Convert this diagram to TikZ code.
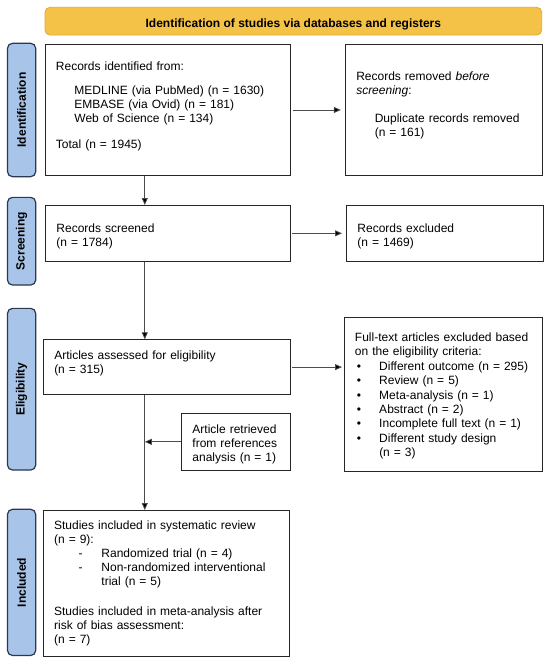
\documentclass[tikz,border=0pt]{standalone}
\usepackage{fontspec}
\setmainfont{Liberation Sans}
\usetikzlibrary{arrows.meta}
\definecolor{banfill}{HTML}{F3C247}
\definecolor{banedge}{HTML}{E2A92E}
\definecolor{sidefill}{HTML}{A8C4E8}
\definecolor{sideedge}{HTML}{2A3850}
\newcommand\TopPad[1]{\rule{0pt}{#1pt}}
\newcommand\BotPad[1]{\rule[-#1pt]{0pt}{#1pt}}
\newcommand\Ind{\hspace*{18.5pt}}
\newcommand\Bul{\makebox[24.3pt][l]{\hspace*{2pt}•}}
\newcommand\Dsh{\hspace*{24.5pt}\makebox[22.8pt][l]{-}}
\begin{document}
\begin{tikzpicture}[x=1pt,y=-1pt,
  box/.style={draw=black!85, line width=0.9pt, anchor=north west, inner xsep=11pt, inner ysep=0pt, align=left, font=\fontsize{12}{14}\selectfont},
  side/.style={draw=sideedge, fill=sidefill, line width=1.2pt, rounded corners=5pt, rotate=90, inner sep=0pt, minimum height=28.2pt, font=\fontsize{12}{14}\selectfont\bfseries},
  banner/.style={draw=banedge, fill=banfill, line width=0.8pt, rounded corners=5pt, inner sep=0pt, text height=12pt, text depth=0pt, font=\fontsize{12}{14}\selectfont\bfseries},
  arr/.style={draw=black!70, line width=0.8pt, -{Triangle[length=7pt,width=6pt,fill=black]}}]
\useasboundingbox (0,0) rectangle (550,667);

\node[banner, minimum width=496.7pt, minimum height=27.7pt] (ban) at (293.35,21.15) {Identification of studies via databases and registers};

\node[side, minimum width=133.4pt] (sIdent) at (21.6,110) {Identification};
\node[side, minimum width=87.7pt] (sScreen) at (21.6,241.2) {Screening};
\node[side, minimum width=161.7pt] (sElig) at (21.6,389.2) {Eligibility};
\node[side, minimum width=146.2pt] (sIncl) at (21.6,582.4) {Included};

\node[box, text width=223.5pt, minimum height=130.4pt] (b1) at (44.5,44.3) {Records identified from:\\[9.5pt]
\Ind MEDLINE (via PubMed) (n = 1630)\\
\Ind EMBASE (via Ovid) (n = 181)\\
\Ind Web of Science (n = 134)\\[12.5pt]
Total (n = 1945)\BotPad{9.5}};

\node[box, text width=174.9pt, minimum height=130.4pt] (b2) at (344.8,44.3) {Records removed \textit{before}\\
\textit{screening}:\\[14pt]
\Ind Duplicate records removed\\
\Ind (n = 161)\BotPad{12.2}};

\node[box, text width=223pt, minimum height=55.7pt] (b3) at (45,205) {\TopPad{14.7}Records screened\\(n = 1784)};

\node[box, text width=174.5pt, minimum height=55.7pt] (b4) at (346,205) {\TopPad{14.7}Records excluded\\(n = 1469)};

\node[box, text width=224.9pt, minimum height=54.7pt] (b5) at (42.8,339.3) {Articles assessed for eligibility\\(n = 315)\BotPad{10.2}};

\node[box, text width=176.2pt, minimum height=154pt, font=\fontsize{12}{14.4}\selectfont] (b6) at (343.5,316.5) {\TopPad{12.7}Full-text articles excluded based\\
on the eligibility criteria:\\
\Bul Different outcome (n = 295)\\
\Bul Review (n = 5)\\
\Bul Meta-analysis (n = 1)\\
\Bul Abstract (n = 2)\\
\Bul Incomplete full text (n = 1)\\
\Bul Different study design\\
\hspace*{24.3pt}(n = 3)};

\node[box, text width=87pt, minimum height=56.2pt] (b7) at (181,413.3) {\TopPad{13.2}Article retrieved\\from references\\analysis (n = 1)};

\node[box, text width=224pt, minimum height=146pt] (b8) at (42.7,510) {Studies included in systematic review\\
(n = 9):\\
\Dsh Randomized trial (n = 4)\\
\Dsh Non-randomized interventional\\
\hspace*{47.3pt}trial (n = 5)\\[16pt]
Studies included in meta-analysis after\\
risk of bias assessment:\\
(n = 7)};

\coordinate (vx) at (144.8,0);
\draw[arr] (b1.south -| vx) -- (b3.north -| vx);
\draw[arr] (b3.south -| vx) -- (b5.north -| vx);
\draw[arr] (b5.south -| vx) -- (b8.north -| vx);
\draw[arr] (b7.west) -- (b7.west -| vx);
\draw[arr] ([xshift=2pt]b1.east) -- ([xshift=-4pt]b1.east -| b2.west);
\draw[arr] ([xshift=1pt]b3.east) -- ([xshift=-4pt]b3.east -| b4.west);
\draw[arr] ([xshift=1pt]b5.east) -- ([xshift=-1.5pt]b5.east -| b6.west);
\end{tikzpicture}
\end{document}
